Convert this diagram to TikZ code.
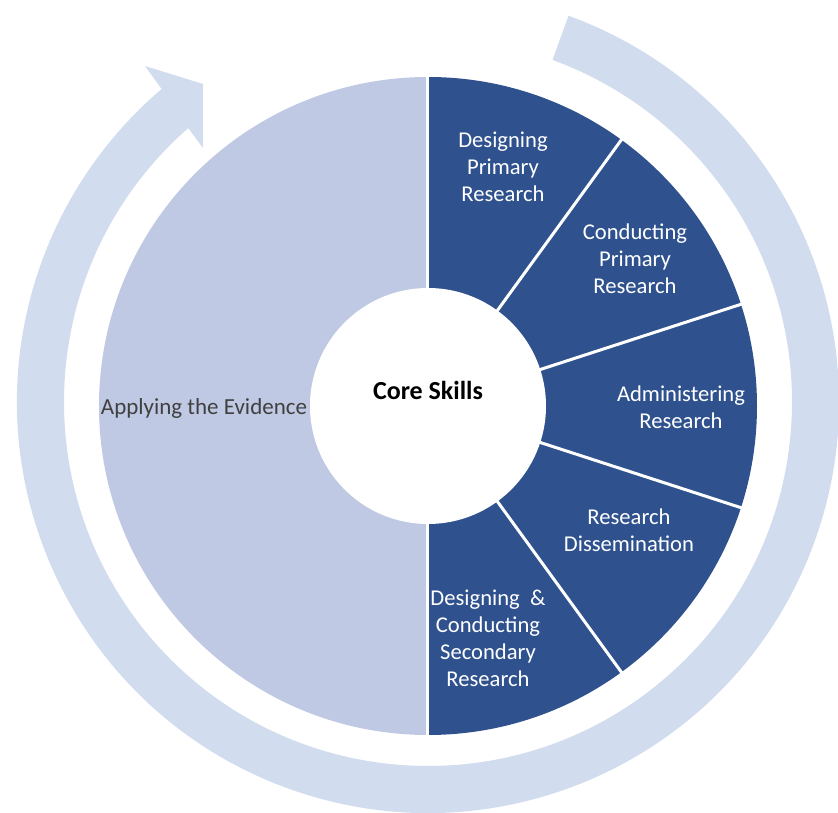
\documentclass[tikz,border=0pt]{standalone}
\usepackage{fontspec}
\setmainfont{Carlito}
\usepackage{tikz}
\definecolor{segblue}{RGB}{47,82,143}
\definecolor{halfblue}{RGB}{191,201,227}
\definecolor{ringblue}{RGB}{209,221,238}
\definecolor{evidgray}{RGB}{64,64,64}
\tikzstyle{seglabel} = [text=white, align=center, font=\fontsize{22.6}{27}\selectfont]
\tikzstyle{sep} = [draw=white, line width=3pt]

\begin{document}
\begin{tikzpicture}[x=1pt, y=1pt]
            \clip (-428,-407) rectangle (410,406);

            % cycle arrow round the disc
            \begin{scope}[shift={(0,4)}]
              \fill[ringblue] (70:411) arc[start angle=70, end angle=-229.6, radius=411]
                -- (-283,336) -- (-225,318) -- (-225,254)
                -- (-228.8:364) arc[start angle=-228.8, end angle=70, radius=364] -- cycle;
            \end{scope}

            % two halves
            \fill[halfblue] (90:329) arc[start angle=90, end angle=270, radius=329] -- cycle;
            \fill[segblue] (90:329) arc[start angle=90, end angle=-90, radius=329] -- cycle;

            \draw[sep] (0,332) -- (0,-332);
            \draw[sep] (0,0) -- (54:332);
            \draw[sep] (0,0) -- (18:332);
            \draw[sep] (0,0) -- (-18:332);
            \draw[sep] (0,0) -- (-54:332);

            \fill[white] (0,0) circle (118);

            \node[font=\fontsize{26}{30}\selectfont\bfseries] (core) at (0,16) {Core Skills};
            \node[text=evidgray, font=\fontsize{23}{27}\selectfont] (apply) at (-224,-2) {Applying the Evidence};

            \node[seglabel] (dpr) at (75,239) {Designing\\Primary\\Research};
            \node[seglabel] (cpr) at (207,147) {Conducting\\Primary\\Research};
            \node[seglabel] (adm) at (253,-1) {Administering\\Research};
            \node[seglabel] (dis) at (201,-124) {Research\\Dissemination};
            \node[seglabel] (dcs) at (60,-232) {Designing~~\&\\Conducting\\Secondary\\Research};
\end{tikzpicture}
\end{document}
